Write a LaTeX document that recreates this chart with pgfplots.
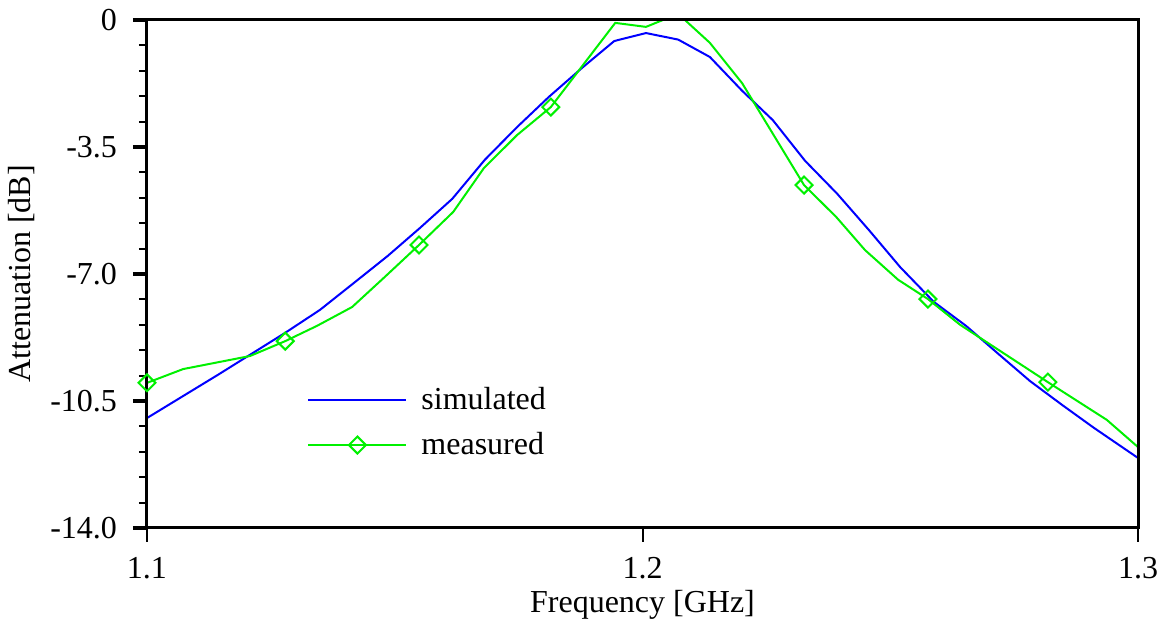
\documentclass[border=0pt]{standalone}
\usepackage{fontspec}
\setmainfont{LiberationSerif}[Extension=.ttf, UprightFont=*-Regular, BoldFont=*-Bold, ItalicFont=*-Italic, BoldItalicFont=*-BoldItalic]
\usepackage{pgfplots}
\pgfplotsset{compat=1.18}

\definecolor{simblue}{RGB}{0,0,255}
\definecolor{measgreen}{RGB}{0,240,0}

\pgfplotstableread{
f      att
1.1000 -10.97
1.1143 -9.78
1.1279 -8.62
1.1349 -7.99
1.1420 -7.22
1.1486 -6.50
1.1551 -5.73
1.1616 -4.93
1.1682 -3.85
1.1747 -2.95
1.1811 -2.12
1.1878 -1.32
1.1943 -0.58
1.2007 -0.36
1.2072 -0.54
1.2136 -1.02
1.2201 -1.95
1.2263 -2.76
1.2328 -3.88
1.2393 -4.79
1.2457 -5.79
1.2520 -6.81
1.2588 -7.77
1.2653 -8.43
1.2718 -9.20
1.2782 -9.95
1.2847 -10.61
1.2911 -11.24
1.3000 -12.07
}\simulated

\pgfplotstableread{
f      att
1.1000 -10.00
1.1073 -9.62
1.1208 -9.26
1.1279 -8.85
1.1343 -8.43
1.1414 -7.91
1.1480 -7.08
1.1549 -6.20
1.1618 -5.29
1.1680 -4.08
1.1747 -3.17
1.1815 -2.40
1.1945 -0.08
1.2007 -0.19
1.2072 0.17
1.2136 -0.63
1.2201 -1.74
1.2326 -4.55
1.2391 -5.43
1.2449 -6.34
1.2516 -7.16
1.2576 -7.69
1.2641 -8.40
1.2818 -9.98
1.2937 -11.02
1.3000 -11.77
}\measured

\pgfplotstableread{
f      att
1.1000 -10.00
1.1279 -8.85
1.1549 -6.20
1.1815 -2.40
1.2326 -4.55
1.2576 -7.69
1.2818 -9.98
}\measmarks

\begin{document}
\begin{tikzpicture}[font=\rmfamily\fontsize{16}{19}\selectfont]
\begin{axis}[
  scale only axis, width=495.5pt, height=254pt,
  xmin=1.1, xmax=1.3, ymin=-14, ymax=0,
  xtick={1.1,1.2,1.3}, xticklabels={1.1,1.2,1.3},
  ytick={-14,-10.5,-7,-3.5,0}, yticklabels={-14.0,-10.5,-7.0,-3.5,0},
  minor y tick num=4,
  xtick pos=bottom, ytick pos=left,
  tick align=outside,
  major tick length=7pt, minor tick length=4pt,
  every major y tick/.style={line width=2pt, black},
  every minor y tick/.style={line width=1pt, black},
  every major x tick/.style={line width=1pt, black},
  axis line style={line width=1.5pt},
  axis on top,
  yticklabel style={xshift=-4.5pt},
  xticklabel style={yshift=-4pt},
  xlabel={Frequency [GHz]}, ylabel={Attenuation [dB]},
  xlabel style={at={(axis description cs:0.5,-0.1516)}, anchor=center},
  ylabel style={at={(axis description cs:-0.1261,0.5)}, anchor=center},
  legend image code/.code={\draw[mark repeat=2,mark phase=2,#1] plot coordinates {(0pt,0pt) (24.5pt,0pt) (49pt,0pt)};},
  legend style={draw=none, fill=none, at={(axis description cs:0.1615,0.2077)}, anchor=west,
    inner sep=0pt, row sep=6pt, font=\rmfamily\fontsize{16}{19}\selectfont,
    /tikz/every odd column/.append style={column sep=5pt}},
  legend cell align=left,
]
\addplot[simblue, line width=1pt] table {\simulated};
\addlegendentry{simulated}
\addplot[measgreen, line width=1pt, forget plot] table {\measured};
\addlegendimage{measgreen, line width=1pt, mark=square, mark size=3pt, mark options={rotate=45, line width=1pt}}
\addlegendentry{measured}
\addplot[measgreen, only marks, mark=square, mark size=3pt, mark options={rotate=45, line width=1pt}, forget plot] table {\measmarks};
\end{axis}
\pgfresetboundingbox
\path[use as bounding box] (-73.5pt,-48pt) rectangle (509.5pt,264pt);
\end{tikzpicture}
\end{document}
